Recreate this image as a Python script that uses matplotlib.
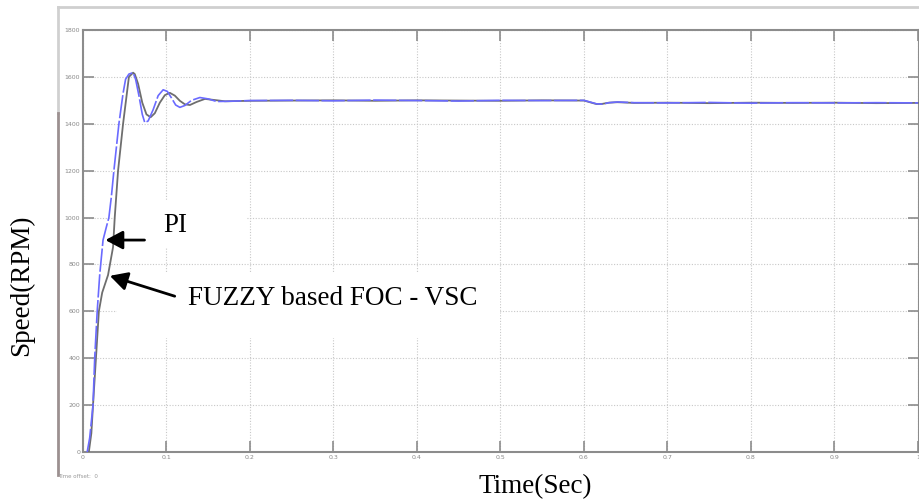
## Speed response: PI vs FUZZY based FOC - VSC
import numpy as np
import matplotlib.pyplot as plt
from matplotlib.lines import Line2D
from matplotlib.patches import Rectangle

# data
t_pi = [0.005, 0.008, 0.012, 0.014, 0.017, 0.020, 0.024, 0.028, 0.031, 0.034,
        0.037, 0.043, 0.048, 0.051, 0.055, 0.060, 0.063, 0.067, 0.071, 0.074,
        0.078, 0.084, 0.090, 0.096, 0.101, 0.106, 0.111, 0.116, 0.122, 0.130,
        0.140, 0.150, 0.160, 0.175, 0.20, 0.25, 0.30, 0.35, 0.40, 0.45, 0.50,
        0.55, 0.60, 0.608, 0.615, 0.622, 0.63, 0.64, 0.66, 0.70, 0.75, 0.80,
        0.85, 0.90, 0.95, 1.00]
speed_pi = [0, 60, 200, 400, 600, 755, 904, 960, 1000, 1090,
            1200, 1400, 1530, 1590, 1612, 1618, 1590, 1520, 1440, 1405,
            1412, 1460, 1520, 1545, 1538, 1510, 1480, 1470, 1478, 1500,
            1512, 1506, 1495, 1496, 1499, 1500, 1498, 1501, 1499, 1497, 1500,
            1499, 1500, 1492, 1485, 1484, 1490, 1493, 1490, 1489, 1491, 1488,
            1490, 1489, 1490, 1489]

t_fuzzy = [0.007, 0.010, 0.012, 0.0155, 0.019, 0.023, 0.030, 0.036, 0.038, 0.042,
           0.048, 0.055, 0.060, 0.062, 0.066, 0.071, 0.076, 0.081, 0.086, 0.092,
           0.098, 0.104, 0.110, 0.116, 0.122, 0.128, 0.136, 0.146, 0.156, 0.170,
           0.20, 0.25, 0.30, 0.35, 0.40, 0.45, 0.50, 0.55, 0.60, 0.608, 0.615,
           0.622, 0.63, 0.64, 0.66, 0.70, 0.75, 0.80, 0.85, 0.90, 0.95, 1.00]
speed_fuzzy = [0, 80, 200, 400, 600, 680, 755, 874, 1000, 1200,
               1400, 1600, 1618, 1612, 1570, 1490, 1440, 1428, 1445, 1490,
               1522, 1532, 1520, 1498, 1483, 1480, 1493, 1506, 1502, 1496,
               1498, 1499, 1500, 1498, 1500, 1499, 1498, 1500, 1499, 1491, 1484,
               1485, 1490, 1492, 1489, 1490, 1488, 1490, 1489, 1490, 1488, 1489]

x_ticks = [0, 0.1, 0.2, 0.3, 0.4, 0.5, 0.6, 0.7, 0.8, 0.9, 1]
x_ticklabels = ['0', '0.1', '0.2', '0.3', '0.4', '0.5', '0.6', '0.7', '0.8', '0.9', '1']
y_ticks = [0, 200, 400, 600, 800, 1000, 1200, 1400, 1600, 1800]

W, H = 920, 503
fig = plt.figure(figsize=(W / 100, H / 100), dpi=100)
ax = fig.add_axes([83 / W, (H - 452) / H, 836 / W, 422 / H])

# grey frame of the scope window
fig.add_artist(Line2D([58 / W, 1], [(H - 7) / H, (H - 7) / H], color='#cfcfcf', lw=2))
fig.add_artist(Line2D([58 / W, 58 / W], [(H - 7) / H, (H - 113) / H], color='#d0d0d0', lw=2))
fig.add_artist(Line2D([58 / W, 58 / W], [(H - 113) / H, (H - 475) / H], color='#9c9090', lw=2))
fig.text(58 / W, (H - 478) / H, 'Time offset:  0', fontsize=4, color='#999999')

ax.plot(t_fuzzy, speed_fuzzy, color='#6e6e6e', lw=1.3, zorder=3)
ax.plot(t_pi, speed_pi, color='#6a6aff', lw=1.2, dashes=(14, 1.5), zorder=4)

ax.set_xlim(0, 1.0012)
ax.set_ylim(0, 1800)
ax.set_xticks(x_ticks)
ax.set_xticklabels(x_ticklabels)
ax.set_yticks(y_ticks)
ax.tick_params(direction='in', length=8, width=1.2, color='#8c8c8c',
               labelsize=4.5, labelcolor='#888888', pad=2,
               top=True, right=True)
for s in ax.spines.values():
    s.set_color('#8c8c8c')
    s.set_linewidth(1.5)
ax.grid(True, color='#c8c8c8', lw=0.8, linestyle=(0, (1, 1.5)))

# white text boxes of the annotations (in pixel coords)
pix = fig.transFigure
ax.add_patch(Rectangle((116 / W, (H - 248) / H), 130 / W, 48 / H, transform=pix,
                       facecolor='white', edgecolor='none', zorder=2))
ax.add_patch(Rectangle((117 / W, (H - 338) / H), 383 / W, 66 / H, transform=pix,
                       facecolor='white', edgecolor='none', zorder=2))

serif = 'Liberation Serif'
arrow = dict(arrowstyle='-|>,head_length=0.75,head_width=0.4',
             color='black', lw=2, mutation_scale=14)
ax.annotate('', xy=(0.0235, 904), xytext=(0.077, 904), arrowprops=arrow, zorder=5)
ax.text(0.096, 965, 'PI', fontsize=19.5, family=serif, va='center', ha='left', zorder=5)
ax.annotate('', xy=(0.029, 755), xytext=(0.113, 661), arrowprops=arrow, zorder=5)
ax.text(0.126, 655, 'FUZZY based FOC - VSC', fontsize=19.5, family=serif,
        va='center', ha='left', zorder=5)

fig.text(22 / W, (H - 285) / H, 'Speed(RPM)', fontsize=19.5, family=serif,
         rotation=90, ha='center', va='center')
fig.text(535 / W, (H - 487) / H, 'Time(Sec)', fontsize=19.5, family=serif,
         ha='center', va='center')

fig.savefig('out.png', dpi=100)
